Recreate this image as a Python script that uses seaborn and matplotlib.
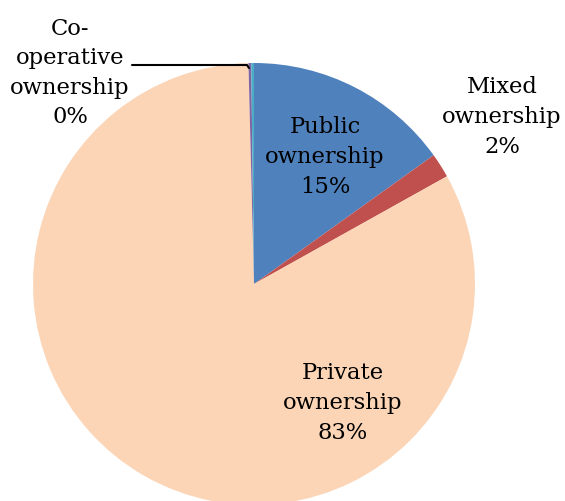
import matplotlib
matplotlib.use("Agg")
import matplotlib.pyplot as plt
import seaborn as sns

# Ownership shares (percent), clockwise from 12 o'clock
categories = ["Public ownership", "Mixed ownership", "Private ownership",
              "Co-operative ownership", "Other"]
shares = [15.1, 1.8, 82.7, 0.2, 0.2]
label_texts = ["Public\nownership\n15%", "Mixed\nownership\n2%",
               "Private\nownership\n83%", "Co-\noperative\nownership\n0%", ""]
colors = ["#4F81BD", "#C0504D", "#FBD5B6", "#8064A2", "#4BACC6"]

sns.set_theme(style="white")
plt.rcParams["font.family"] = ["DejaVu Serif"]

W, H = 565, 502
fig = plt.figure(figsize=(W / 100, H / 100), dpi=100)
ax = fig.add_axes([0, 0, 1, 1])

cx, cy, r = 254, H - 285, 221
ax.pie(shares, colors=colors, startangle=90, counterclock=False,
       center=(cx, cy), radius=r, frame=True,
       wedgeprops=dict(linewidth=0))
ax.set_xlim(0, W)
ax.set_ylim(0, H)
ax.set_aspect("equal")
ax.axis("off")

fs = 16.3
pos = [(325, 157), (502, 117), (343, 403), (70, 73)]
for txt, (x, y) in zip(label_texts, pos):
    if txt:
        ax.text(x, H - y, txt, ha="center", va="center", fontsize=fs,
                color="black", linespacing=1.45)

# leader line for the co-operative slice
ax.plot([132, 247, 249], [H - 66, H - 66, H - 69], color="black", lw=1.5)

fig.savefig("out.png", dpi=100)
